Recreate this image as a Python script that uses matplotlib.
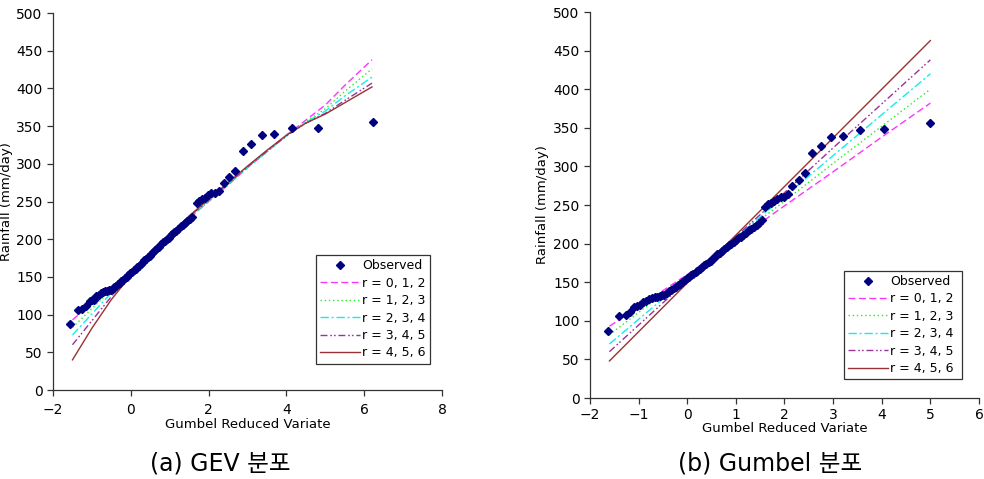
import numpy as np
import matplotlib
matplotlib.use('Agg')
import matplotlib.pyplot as plt

plt.rcParams['font.family'] = ['DejaVu Sans', 'Noto Sans CJK KR']

# observed rainfall (sorted), mm/day
rain = [87, 106, 107, 111, 118, 119, 120, 125, 126, 128,
        130, 131, 131, 132, 133, 134, 136, 138, 140, 142,
        144, 146, 148, 150, 153, 155, 157, 159, 161, 163,
        165, 167, 170, 172, 174, 176, 178, 181, 183, 186,
        188, 190, 193, 196, 198, 200, 202, 205, 207, 209,
        211, 214, 217, 219, 221, 224, 227, 230, 248, 251,
        253, 255, 258, 261, 261, 264, 274, 283, 291, 317,
        326, 338, 339, 347, 348, 356]

# reduced variate of each observation, GEV panel
x_gev = [-1.56, -1.37, -1.26, -1.15, -1.06, -1.00, -0.95, -0.89, -0.83, -0.77,
         -0.72, -0.67, -0.62, -0.57, -0.52, -0.47, -0.42, -0.38, -0.33, -0.28,
         -0.24, -0.19, -0.15, -0.10, -0.06, -0.01, 0.03, 0.08, 0.12, 0.17,
         0.21, 0.26, 0.30, 0.35, 0.39, 0.44, 0.48, 0.53, 0.58, 0.62,
         0.67, 0.72, 0.77, 0.82, 0.87, 0.92, 0.97, 1.02, 1.07, 1.12,
         1.17, 1.22, 1.28, 1.33, 1.39, 1.45, 1.51, 1.57, 1.70, 1.76,
         1.82, 1.90, 1.98, 2.06, 2.17, 2.27, 2.40, 2.53, 2.69, 2.88,
         3.08, 3.36, 3.68, 4.14, 4.82, 6.22]

# reduced variate of each observation, Gumbel panel
x_gum = [-1.64, -1.40, -1.27, -1.18, -1.10, -1.03, -0.97, -0.90, -0.84, -0.78,
         -0.72, -0.67, -0.62, -0.57, -0.52, -0.47, -0.42, -0.37, -0.33, -0.28,
         -0.23, -0.19, -0.14, -0.10, -0.05, -0.01, 0.04, 0.08, 0.12, 0.17,
         0.21, 0.26, 0.30, 0.35, 0.39, 0.44, 0.48, 0.53, 0.58, 0.62,
         0.67, 0.72, 0.76, 0.81, 0.86, 0.91, 0.96, 1.00, 1.05, 1.10,
         1.15, 1.21, 1.26, 1.31, 1.37, 1.43, 1.48, 1.54, 1.60, 1.66,
         1.72, 1.79, 1.85, 1.92, 1.99, 2.07, 2.16, 2.29, 2.42, 2.57,
         2.75, 2.96, 3.20, 3.55, 4.04, 5.00]

labels = ['r = 0, 1, 2', 'r = 1, 2, 3', 'r = 2, 3, 4', 'r = 3, 4, 5', 'r = 4, 5, 6']

# fitted GEV quantiles
gev_x = [-1.5, -1.0, -0.5, 0, 0.5, 1, 1.5, 2, 2.5, 3, 3.5, 4, 4.5, 5, 5.5, 6.2]
gev_r012 = [93, 115, 137, 158, 182, 205, 228, 250, 272, 295, 316, 338, 358, 378, 404, 438]
gev_r123 = [83, 108, 133, 157, 182, 205, 228, 250, 272, 295, 316, 337, 356, 373, 396, 426]
gev_r234 = [73, 101, 129, 156, 182, 205, 229, 251, 273, 295, 316, 337, 355, 370, 390, 415]
gev_r345 = [60, 92, 124, 154, 181, 206, 230, 252, 274, 296, 317, 337, 354, 367, 384, 407]
gev_r456 = [40, 82, 120, 152, 180, 206, 231, 253, 275, 297, 318, 338, 354, 366, 381, 402]

# fitted Gumbel quantiles
gum_x = [-1.6, 0, 1, 2, 3, 4, 5]
gum_r012 = [93, 160, 204, 249, 293, 338, 382]
gum_r123 = [82, 159, 207, 255, 304, 352, 400]
gum_r234 = [70, 155, 208, 261, 314, 367, 420]
gum_r345 = [60, 152, 209, 266, 324, 381, 438]
gum_r456 = [48, 149, 211, 274, 337, 400, 463]

colors = ['#FF33FF', '#22EE22', '#11EEEE', '#993399', '#993333']
styles = [(0, (5, 2.5)), (0, (1, 2)), (0, (6, 2, 1.5, 2)), (0, (5, 2, 1.2, 1.5, 1.2, 2)), '-']

fig = plt.figure(figsize=(9.84, 4.79), dpi=100)
ax1 = fig.add_axes([0.0539, 0.1858, 0.3953, 0.787])
ax2 = fig.add_axes([0.5996, 0.1691, 0.3953, 0.8058])


def draw(ax, xo, lx, ys, xlim, xticks):
    ax.plot(xo, rain, 'D', color='#000080', ms=3.8, label='Observed', zorder=5)
    for y, c, s, lab in zip(ys, colors, styles, labels):
        ax.plot(lx, y, color=c, ls=s, lw=1.0, label=lab)
    ax.set_xlim(*xlim)
    ax.set_ylim(0, 500)
    ax.set_xticks(xticks)
    ax.set_yticks(range(0, 501, 50))
    for s in ['top', 'right']:
        ax.spines[s].set_visible(False)
    for s in ['left', 'bottom']:
        ax.spines[s].set_color('#333333')
        ax.spines[s].set_linewidth(0.9)
    ax.tick_params(axis='both', labelsize=10, length=4, width=0.9, color='#333333')
    ax.set_ylabel('Rainfall (mm/day)', fontsize=9.5, labelpad=2)
    ax.set_xlabel('Gumbel Reduced Variate', fontsize=9.5, labelpad=1)


draw(ax1, x_gev, gev_x, [gev_r012, gev_r123, gev_r234, gev_r345, gev_r456],
     (-2, 8), range(-2, 9, 2))
draw(ax2, x_gum, gum_x, [gum_r012, gum_r123, gum_r234, gum_r345, gum_r456],
     (-2, 6), range(-2, 7, 1))
ax1.tick_params(axis='x', pad=5)
ax2.tick_params(axis='x', pad=3)
ax2.xaxis.labelpad = 0
ax2.yaxis.labelpad = 3

for ax, anchor in [(ax1, (0.675, 0.068, 0.295, 0.29)), (ax2, (0.652, 0.05, 0.305, 0.28))]:
    leg = ax.legend(loc='upper left', bbox_to_anchor=anchor, mode='expand', fontsize=9,
                    frameon=True, fancybox=False, edgecolor='black', handlelength=3.2,
                    borderpad=0.35, labelspacing=0.35, handletextpad=0.2,
                    borderaxespad=0)
    leg.get_frame().set_linewidth(0.9)

fig.text(0.224, 0.033, '(a) GEV 분포', fontsize=17, ha='center', va='center')
fig.text(0.783, 0.033, '(b) Gumbel 분포', fontsize=17, ha='center', va='center')

fig.savefig('out.png', dpi=100)
